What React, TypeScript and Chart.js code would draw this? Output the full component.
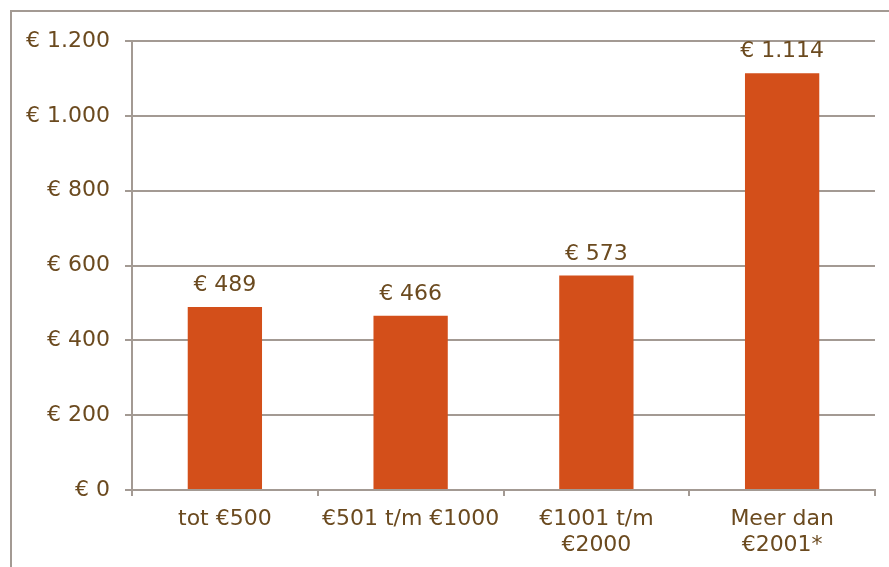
import React, { useEffect, useRef } from "react";
import { Chart, registerables } from "chart.js";

Chart.register(...registerables);

const categories: (string | string[])[] = [
  "tot €500",
  "€501 t/m €1000",
  ["€1001 t/m", "€2000"],
  ["Meer dan", "€2001*"],
];
const values: number[] = [489, 466, 573, 1114];
const yTicks: number[] = [0, 200, 400, 600, 800, 1000, 1200];

const TEXT = "#6B4A1F";
const GRID = "#A39A93";
const BAR = "#D34F1A";
const FONT = "DejaVu Sans, Verdana, sans-serif";

const fmt = (v: number) => "€ " + v.toLocaleString("de-DE");

export default function App() {
  const ref = useRef<HTMLCanvasElement>(null);
  useEffect(() => {
    if (!ref.current) return;
    const framePlugin = {
      id: "frame",
      beforeDraw(chart: any) {
        const ctx = chart.ctx;
        ctx.save();
        ctx.strokeStyle = GRID;
        ctx.lineWidth = 2;
        ctx.beginPath();
        ctx.moveTo(11, chart.height + 5);
        ctx.lineTo(11, 11);
        ctx.lineTo(chart.width + 5, 11);
        ctx.stroke();
        ctx.restore();
      },
    };
    const labelPlugin = {
      id: "valueLabels",
      afterDatasetsDraw(chart: any) {
        const ctx = chart.ctx;
        const meta = chart.getDatasetMeta(0);
        ctx.save();
        ctx.fillStyle = TEXT;
        ctx.font = `22px ${FONT}`;
        ctx.textAlign = "center";
        ctx.textBaseline = "alphabetic";
        meta.data.forEach((el: any, i: number) => {
          ctx.fillText(fmt(values[i]), el.x, el.y - 16);
        });
        ctx.restore();
      },
    };
    const chart = new Chart(ref.current, {
      type: "bar",
      data: {
        labels: categories,
        datasets: [
          {
            data: values,
            backgroundColor: BAR,
            barPercentage: 0.4,
            categoryPercentage: 1,
          },
        ],
      },
      options: {
        animation: false,
        responsive: false,
        maintainAspectRatio: false,
        layout: { padding: { top: 41, right: 14, left: 0, bottom: 0 } },
        plugins: { legend: { display: false }, tooltip: { enabled: false } },
        scales: {
          x: {
            afterFit: (s: any) => {
              s.height = 77;
            },
            grid: {
              display: true,
              drawOnChartArea: false,
              drawTicks: true,
              tickLength: 6,
              color: GRID,
              lineWidth: 2,
              offset: true,
            },
            border: { display: true, color: GRID, width: 2 },
            ticks: {
              color: TEXT,
              font: { family: FONT, size: 22 },
              padding: 10,
              maxRotation: 0,
              autoSkip: false,
            },
          },
          y: {
            min: 0,
            max: 1200,
            afterFit: (s: any) => {
              s.width = 132;
            },
            afterBuildTicks: (s: any) => {
              s.ticks = yTicks.map((v) => ({ value: v }));
            },
            grid: {
              color: GRID,
              lineWidth: 2,
              tickLength: 7,
              drawTicks: true,
            },
            border: { display: true, color: GRID, width: 2 },
            ticks: {
              color: TEXT,
              font: { family: FONT, size: 22 },
              padding: 15,
              callback: (v: any) => fmt(Number(v)),
            },
          },
        },
      },
      plugins: [framePlugin, labelPlugin],
    });
    return () => chart.destroy();
  }, []);
  return (
    <div style={{ position: "fixed", left: 0, top: 0, width: 889, height: 567, background: "#fff" }}>
      <canvas ref={ref} width={889} height={567} style={{ width: 889, height: 567, display: "block" }} />
    </div>
  );
}
